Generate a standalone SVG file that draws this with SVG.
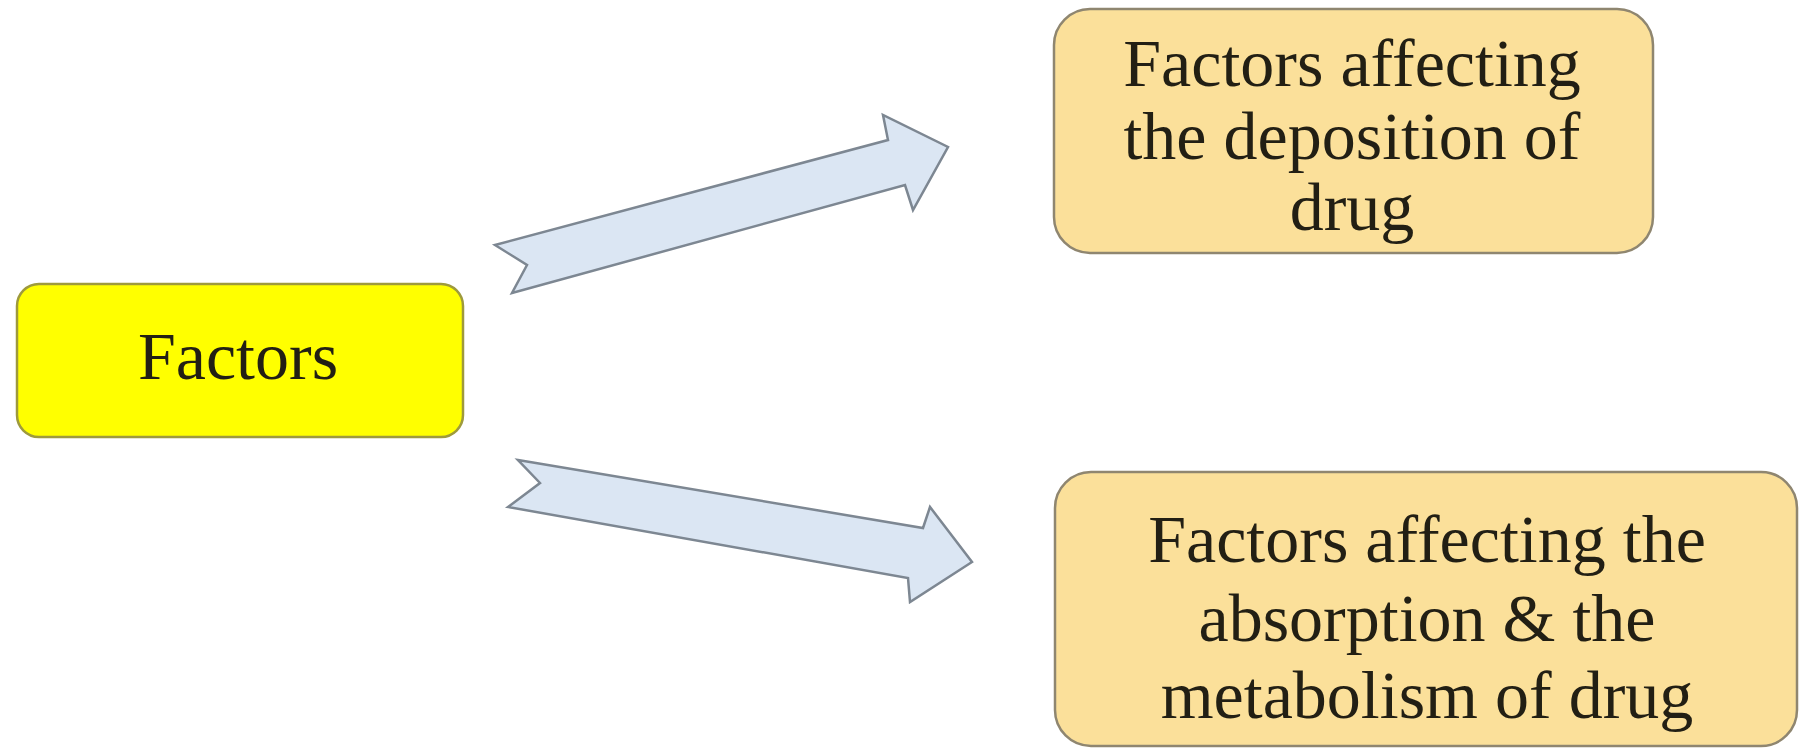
<svg xmlns="http://www.w3.org/2000/svg" width="1800" height="748" viewBox="0 0 1800 748">
<style>
.lbl{font-family:"Liberation Serif","Times New Roman",serif;font-size:68px;fill:#221f14;text-anchor:middle}
.tan{fill:#fbe09a;stroke:#8f8670;stroke-width:2.5}
.yel{fill:#ffff00;stroke:#9e9a3c;stroke-width:2.5}
.arr{fill:#dbe6f3;stroke:#7d8792;stroke-width:2.5;stroke-linejoin:miter}
</style>
<rect width="1800" height="748" fill="#ffffff"/>
<g id="connectors">
<path class="arr" d="M495,245 L888,140 L883,115 L948,147 L913,210 L905,185 L512,293 L527,265 Z"/>
<path class="arr" d="M518,460 L923,528 L930,507 L972,562 L910,602 L908,578 L508,507 L540,483 Z"/>
</g>
<g id="factors">
<rect class="yel" x="17" y="284" width="446" height="153" rx="22"/>
<text class="lbl" x="238" y="379">Factors</text>
</g>
<g id="deposition">
<rect class="tan" x="1054" y="9" width="599" height="244" rx="36"/>
<text class="lbl" x="1352" y="86">Factors affecting</text>
<text class="lbl" x="1352" y="159">the deposition of</text>
<text class="lbl" x="1352" y="230">drug</text>
</g>
<g id="absorption">
<rect class="tan" x="1055" y="472" width="742" height="274" rx="36"/>
<text class="lbl" x="1427" y="562">Factors affecting the</text>
<text class="lbl" x="1427" y="641">absorption &amp; the</text>
<text class="lbl" x="1427" y="718">metabolism of drug</text>
</g>
</svg>
